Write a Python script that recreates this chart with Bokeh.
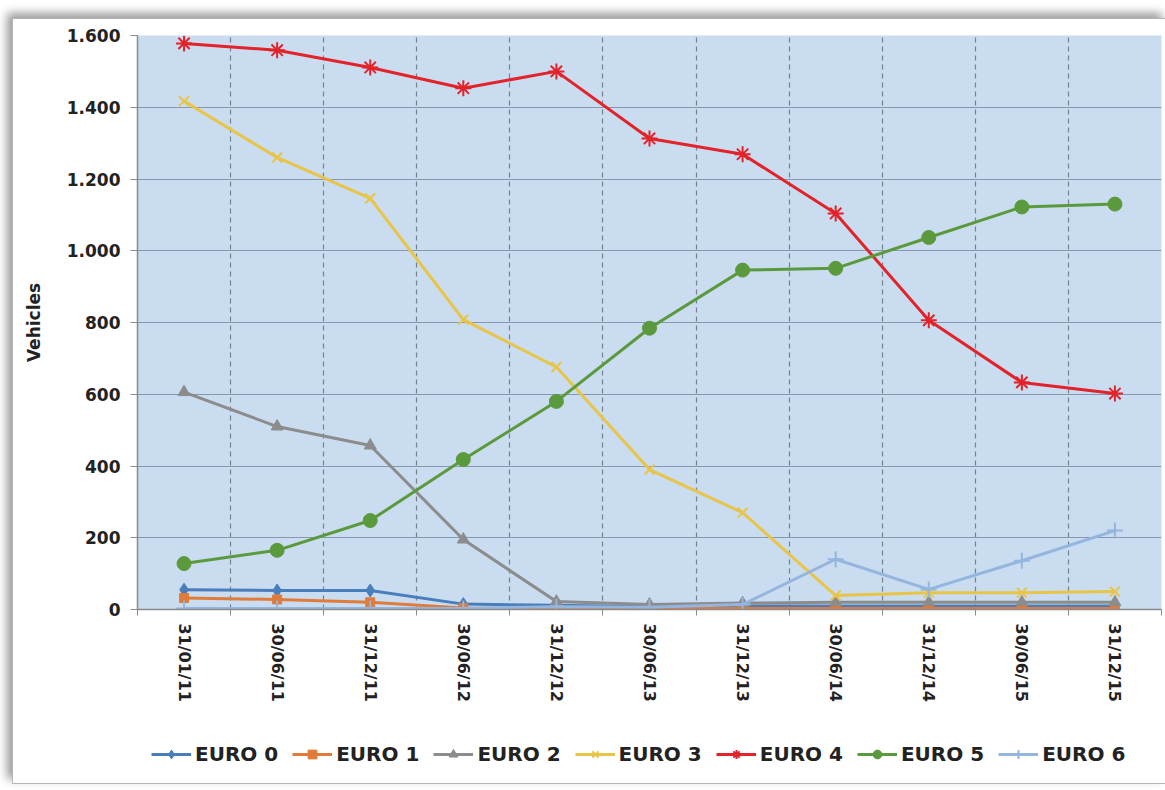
from bokeh.plotting import figure
from bokeh.layouts import column
from bokeh.models import FixedTicker, Legend, LegendItem
from bokeh.embed import file_html
from bokeh.resources import INLINE

# Reporting dates (half-yearly snapshots)
dates = ["31/01/11", "30/06/11", "31/12/11", "30/06/12", "31/12/12", "30/06/13",
         "31/12/13", "30/06/14", "31/12/14", "30/06/15", "31/12/15"]

# Vehicle counts per emission class
euro0 = [55, 53, 53, 15, 12, 8, 10, 10, 10, 10, 10]
euro1 = [32, 28, 20, 4, 2, 2, 3, 3, 3, 3, 3]
euro2 = [606, 510, 457, 195, 22, 14, 18, 20, 20, 20, 20]
euro3 = [1417, 1260, 1146, 808, 676, 390, 270, 39, 47, 47, 50]
euro4 = [1578, 1559, 1511, 1453, 1500, 1313, 1269, 1104, 806, 633, 602]
euro5 = [128, 165, 248, 418, 580, 784, 946, 951, 1037, 1122, 1130]
euro6 = [3, 3, 3, 3, 8, 6, 14, 140, 56, 136, 220]

y_ticks = [0, 200, 400, 600, 800, 1000, 1200, 1400, 1600]
y_labels = ["0", "200", "400", "600", "800", "1.000", "1.200", "1.400", "1.600"]

x = list(range(len(dates)))

p = figure(frame_width=1024, frame_height=574, output_backend="svg", toolbar_location=None,
           x_range=(-0.5, len(dates) - 0.5), y_range=(0, 1600),
           min_border_left=124, min_border_right=5, min_border_top=16,
           min_border_bottom=0)

p.background_fill_color = "#c9dcf0"
p.border_fill_color = "white"
p.outline_line_color = None

# Axes
p.xaxis.ticker = FixedTicker(ticks=x, minor_ticks=[i - 0.5 for i in range(len(dates) + 1)])
p.xaxis.major_label_overrides = {i: d for i, d in enumerate(dates)}
p.xaxis.major_label_orientation = "vertical"
p.xaxis.major_label_text_font = "DejaVu Sans"
p.xaxis.major_label_text_font_size = "16px"
p.xaxis.major_label_text_font_style = "bold"
p.xaxis.major_label_text_color = "#222222"
p.xaxis.major_label_standoff = 8
p.xaxis.major_tick_out = 0
p.xaxis.major_tick_in = 0
p.xaxis.minor_tick_out = 6
p.xaxis.minor_tick_in = 0
p.xaxis.minor_tick_line_color = "#8a8a8a"
p.xaxis.axis_line_color = "#8a8a8a"
p.xaxis.axis_line_width = 1.5

p.yaxis.ticker = FixedTicker(ticks=y_ticks, minor_ticks=[])
p.yaxis.major_label_overrides = {t: l for t, l in zip(y_ticks, y_labels)}
p.yaxis.major_label_text_font = "DejaVu Sans"
p.yaxis.major_label_text_font_size = "17px"
p.yaxis.major_label_text_font_style = "bold"
p.yaxis.major_label_text_color = "#222222"
p.yaxis.major_label_standoff = 10
p.yaxis.major_tick_out = 7
p.yaxis.major_tick_in = 0
p.yaxis.major_tick_line_color = "#8a8a8a"
p.yaxis.axis_line_color = "#8a8a8a"
p.yaxis.axis_line_width = 1.5
p.yaxis.axis_label = "Vehicles"
p.yaxis.axis_label_text_font = "DejaVu Sans"
p.yaxis.axis_label_text_font_size = "17px"
p.yaxis.axis_label_text_font_style = "bold"
p.yaxis.axis_label_text_color = "#222222"
p.yaxis.axis_label_standoff = 20

# Grids: solid horizontals, dashed verticals between dates
p.ygrid.ticker = FixedTicker(ticks=y_ticks)
p.ygrid.grid_line_color = "#8798ae"
p.ygrid.grid_line_width = 1.2
p.xgrid.ticker = FixedTicker(ticks=[i - 0.5 for i in range(len(dates) + 1)])
p.xgrid.grid_line_color = "#77808c"
p.xgrid.grid_line_dash = "5 4"
p.xgrid.grid_line_width = 1.2

series = [
    ("EURO 0", euro0, "#4a7ebb", "diamond", 13),
    ("EURO 1", euro1, "#e07b39", "square", 9),
    ("EURO 2", euro2, "#8c8c8c", "triangle", 12),
    ("EURO 3", euro3, "#e8c547", "x", 14),
    ("EURO 4", euro4, "#e32229", "asterisk", 16),
    ("EURO 5", euro5, "#5b9a3c", "circle", 14),
    ("EURO 6", euro6, "#94b6de", "cross", 16),
]

# Legend strip underneath the chart; its key renderers carry the series
# styles and sit outside the strip's visible range
lf = figure(width=1153, height=79, output_backend="svg", toolbar_location=None,
            x_range=(0, 1), y_range=(0, 1), x_axis_type=None, y_axis_type=None,
            min_border=0)
lf.outline_line_color = None
lf.border_fill_color = "white"
lf.background_fill_color = "white"

items = []
for name, vals, color, marker, size in series:
    kw = dict(marker=marker, size=size, line_color=color, fill_color=color)
    if marker in ("x", "asterisk", "cross"):
        kw["line_width"] = 2
    p.line(x, vals, line_color=color, line_width=3)
    p.scatter(x, vals, **kw)
    ln = lf.line([-5, -4], [-5, -5], line_color=color, line_width=3)
    sc = lf.scatter([-5], [-5], **kw)
    items.append(LegendItem(label=name, renderers=[ln, sc]))

legend = Legend(items=items, orientation="horizontal", location=(14, 17),
                label_text_font="DejaVu Sans", label_text_font_size="20px",
                label_text_font_style="bold", label_text_color="#222222",
                glyph_width=40, glyph_height=22, spacing=14, label_standoff=4,
                border_line_color=None, background_fill_alpha=0,
                margin=0, padding=0)
lf.add_layout(legend, "center")

layout = column(p, lf, spacing=0, margin=(18, 0, 0, 12),
                styles={"border": "1px solid #b5b5b5",
                        "box-shadow": "-5px -5px 9px #9a9a9a",
                        "background-color": "white"})

open("out.html", "w").write(file_html(layout, INLINE))
